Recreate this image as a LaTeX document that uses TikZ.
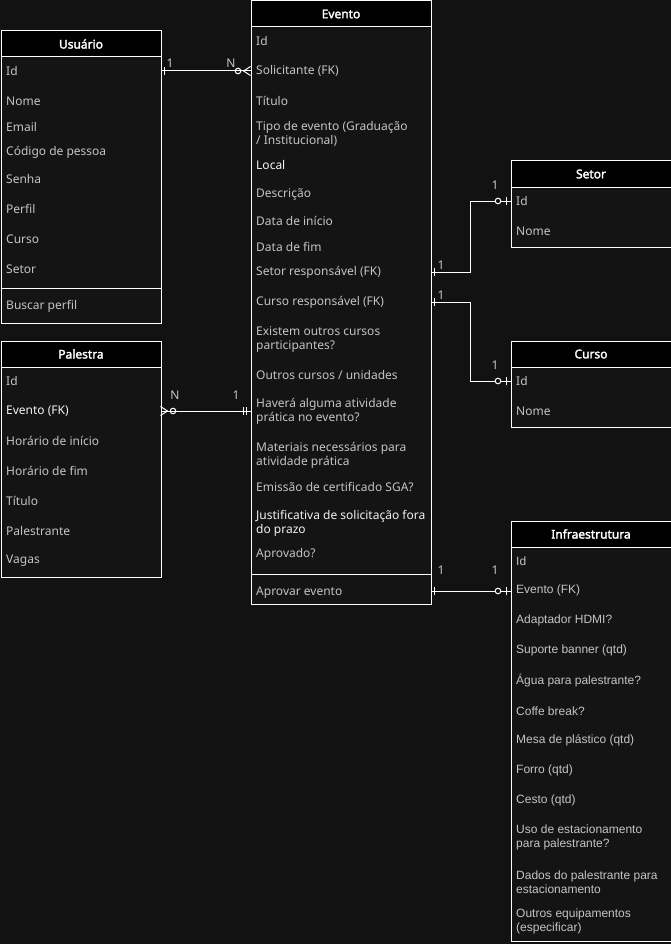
\documentclass[tikz,border=0pt]{standalone}
\usepackage{fontspec}
\setmainfont{Noto Sans}
\newfontfamily\hdrfont[AutoFakeBold=2.2]{Noto Sans}
\newfontfamily\arialf{Liberation Sans}
\definecolor{bg}{HTML}{121212}
\definecolor{boxfill}{HTML}{141414}
\definecolor{rowgray}{HTML}{C4C4C4}
\definecolor{rowwhite}{HTML}{F2F2F2}
\begin{document}
\begin{tikzpicture}[x=1pt,y=-1pt,
  entity/.style={draw=white, fill=boxfill, line width=1pt, inner sep=0pt, anchor=north west},
  header/.style={draw=white, fill=black, line width=1pt, inner sep=0pt, anchor=north west,
     text=white, font=\fontsize{12}{14}\selectfont\hdrfont\bfseries},
  row/.style={anchor=west, inner sep=0pt, align=left, text=rowgray, yshift=-0.8pt, font=\fontsize{12}{14}\selectfont},
  rowi/.style={row, text=rowwhite},
  irow/.style={row, font=\fontsize{12}{14}\selectfont\arialf},
  sep/.style={draw=white, line width=1pt},
  rel/.style={draw=white, line width=1pt},
  erm/.style={draw=white, line width=1pt},
  card/.style={inner sep=0pt, text=rowgray, font=\fontsize{12}{14}\selectfont}
]
\fill[bg] (0,0) rectangle (671,944);
\useasboundingbox (0,0) rectangle (671,944);

% ---------- Usuario ----------
\node[entity, minimum width=160pt, minimum height=292pt] (usuario) at (0.5,30.5) {};
\node[header, minimum width=160pt, minimum height=26pt] (usuario-h) at (0.5,30.5) {Usuário};
\draw[sep] (0.5,288.5) -- (160.5,288.5);
\node[row] (u1) at (6,70) {Id};
\node[row] (u2) at (6,100) {Nome};
\node[row] (u3) at (6,126) {Email};
\node[row] (u4) at (6,152) {Código de pessoa};
\node[row] (u5) at (6,178) {Senha};
\node[row] (u6) at (6,208) {Perfil};
\node[row] (u7) at (6,238) {Curso};
\node[row] (u8) at (6,268) {Setor};
\node[row] (u9) at (6,306) {Buscar perfil};

% ---------- Evento ----------
\node[entity, minimum width=180pt, minimum height=603pt] (evento) at (250.5,0.5) {};
\node[header, minimum width=180pt, minimum height=26pt] (evento-h) at (250.5,0.5) {Evento};
\draw[sep] (250.5,574.5) -- (430.5,574.5);
\node[row] (e1) at (256,40) {Id};
\node[row] (e2) at (256,70) {Solicitante (FK)};
\node[row] (e3) at (256,100) {Título};
\node[row] (e4) at (256,133) {Tipo de evento (Graduação\\/ Institucional)};
\node[rowi] (e5) at (256,164) {Local};
\node[row] (e6) at (256,194) {Descrição};
\node[row] (e7) at (256,220) {Data de início};
\node[row] (e8) at (256,246) {Data de fim};
\node[row] (e9) at (256,272) {Setor responsável (FK)};
\node[row] (e10) at (256,302) {Curso responsável (FK)};
\node[row] (e11) at (256,339) {Existem outros cursos\\participantes?};
\node[row] (e12) at (256,374) {Outros cursos / unidades};
\node[row] (e13) at (256,411) {Haverá alguma atividade\\prática no evento?};
\node[row] (e14) at (256,455) {Materiais necessários para\\atividade prática};
\node[row] (e15) at (256,486) {Emissão de certificado SGA?};
\node[rowi] (e16) at (256,523) {Justificativa de solicitação fora\\do prazo};
\node[row] (e17) at (256,554) {Aprovado?};
\node[row] (e18) at (256,592) {Aprovar evento};

% ---------- Setor ----------
\node[entity, minimum width=160pt, minimum height=86pt] (setor) at (510.5,160.5) {};
\node[header, minimum width=160pt, minimum height=26pt] (setor-h) at (510.5,160.5) {Setor};
\node[row] (s1) at (516,200) {Id};
\node[row] (s2) at (516,230) {Nome};

% ---------- Curso ----------
\node[entity, minimum width=160pt, minimum height=86pt] (curso) at (510.5,340.5) {};
\node[header, minimum width=160pt, minimum height=26pt] (curso-h) at (510.5,340.5) {Curso};
\node[row] (c1) at (516,380) {Id};
\node[row] (c2) at (516,410) {Nome};

% ---------- Palestra ----------
\node[entity, minimum width=160pt, minimum height=236pt] (palestra) at (0.5,340.5) {};
\node[header, minimum width=160pt, minimum height=26pt] (palestra-h) at (0.5,340.5) {Palestra};
\node[row] (p1) at (6,380) {Id};
\node[rowi] (p2) at (6,410) {Evento (FK)};
\node[row] (p3) at (6,440) {Horário de início};
\node[row] (p4) at (6,470) {Horário de fim};
\node[row] (p5) at (6,500) {Título};
\node[row] (p6) at (6,530) {Palestrante};
\node[row] (p7) at (6,560) {Vagas};

% ---------- Infraestrutura ----------
\node[entity, minimum width=160pt, minimum height=420pt] (infra) at (510.5,520.5) {};
\node[header, minimum width=160pt, minimum height=26pt] (infra-h) at (510.5,520.5) {Infraestrutura};
\node[irow] (i1) at (516,560) {Id};
\node[irow] (i2) at (516,590) {Evento (FK)};
\node[irow] (i3) at (516,620) {Adaptador HDMI?};
\node[irow] (i4) at (516,650) {Suporte banner (qtd)};
\node[irow] (i5) at (516,680) {Água para palestrante?};
\node[irow] (i6) at (516,710) {Coffe break?};
\node[irow] (i7) at (516,740) {Mesa de plástico (qtd)};
\node[irow] (i8) at (516,770) {Forro (qtd)};
\node[irow] (i9) at (516,800) {Cesto (qtd)};
\node[irow] (i10) at (516,837) {Uso de estacionamento\\para palestrante?};
\node[irow] (i11) at (516,881) {Dados do palestrante para\\estacionamento};
\node[irow] (i12) at (516,921) {Outros equipamentos\\(especificar)};

% ---------- connector end points ----------
\coordinate (ue) at (160.5,71);
\coordinate (es) at (250.5,71);
\coordinate (pe) at (160.5,411);
\coordinate (ep) at (250.5,411);
\coordinate (eset) at (430.5,272);
\coordinate (setin) at (510.5,201);
\coordinate (ecur) at (430.5,302);
\coordinate (curin) at (510.5,381);
\coordinate (einf) at (430.5,591);
\coordinate (infin) at (510.5,591);

% Usuario 1 -- N Evento
\draw[rel] (ue) -- ([xshift=-9.5pt]es);
\draw[erm] ([xshift=4pt,yshift=-4pt]ue) -- ([xshift=4pt,yshift=4pt]ue);
\draw[erm] ([xshift=-12.5pt]es) circle (2.8pt);
\draw[erm] ([xshift=-7pt]es) -- ([yshift=-4.5pt]es);
\draw[erm] ([xshift=-7pt]es) -- ([yshift=4.5pt]es);
\draw[erm] ([xshift=-9.5pt]es) -- (es);
\node[card] (l1) at (170,63) {1};
\node[card] (l2) at (231,63) {N};

% Palestra N -- 1 Evento
\draw[rel] ([xshift=9.5pt]pe) -- (ep);
\draw[erm] ([xshift=12.5pt]pe) circle (2.8pt);
\draw[erm] ([xshift=7pt]pe) -- ([yshift=-4.5pt]pe);
\draw[erm] ([xshift=7pt]pe) -- ([yshift=4.5pt]pe);
\draw[erm] ([xshift=9.5pt]pe) -- (pe);
\draw[erm] ([xshift=-7pt,yshift=-4pt]ep) -- ([xshift=-7pt,yshift=4pt]ep);
\draw[erm] ([xshift=-4pt,yshift=-4pt]ep) -- ([xshift=-4pt,yshift=4pt]ep);
\node[card] (l3) at (175,395) {N};
\node[card] (l4) at (236,395) {1};

% Evento 1 -- 1 Setor
\draw[rel] (eset) -| (470.5,201) -- ([xshift=-15pt]setin);
\draw[rel] ([xshift=-9.5pt]setin) -- (setin);
\draw[erm] ([xshift=3.5pt,yshift=-4pt]eset) -- ([xshift=3.5pt,yshift=4pt]eset);
\draw[erm] ([xshift=-12.5pt]setin) circle (2.8pt);
\draw[erm] ([xshift=-4.5pt,yshift=-4pt]setin) -- ([xshift=-4.5pt,yshift=4pt]setin);
\node[card] (l5) at (441,265) {1};
\node[card] (l6) at (495,185) {1};

% Evento 1 -- 1 Curso
\draw[rel] (ecur) -| (470.5,381) -- ([xshift=-15pt]curin);
\draw[rel] ([xshift=-9.5pt]curin) -- (curin);
\draw[erm] ([xshift=3.5pt,yshift=-4pt]ecur) -- ([xshift=3.5pt,yshift=4pt]ecur);
\draw[erm] ([xshift=-12.5pt]curin) circle (2.8pt);
\draw[erm] ([xshift=-4.5pt,yshift=-4pt]curin) -- ([xshift=-4.5pt,yshift=4pt]curin);
\node[card] (l7) at (441,295) {1};
\node[card] (l8) at (495,365) {1};

% Evento 1 -- 1 Infraestrutura
\draw[rel] (einf) -- ([xshift=-15pt]infin);
\draw[rel] ([xshift=-9.5pt]infin) -- (infin);
\draw[erm] ([xshift=3.5pt,yshift=-4pt]einf) -- ([xshift=3.5pt,yshift=4pt]einf);
\draw[erm] ([xshift=-12.5pt]infin) circle (2.8pt);
\draw[erm] ([xshift=-4.5pt,yshift=-4pt]infin) -- ([xshift=-4.5pt,yshift=4pt]infin);
\node[card] (l9) at (441,570) {1};
\node[card] (l10) at (495,570) {1};
\end{tikzpicture}
\end{document}
